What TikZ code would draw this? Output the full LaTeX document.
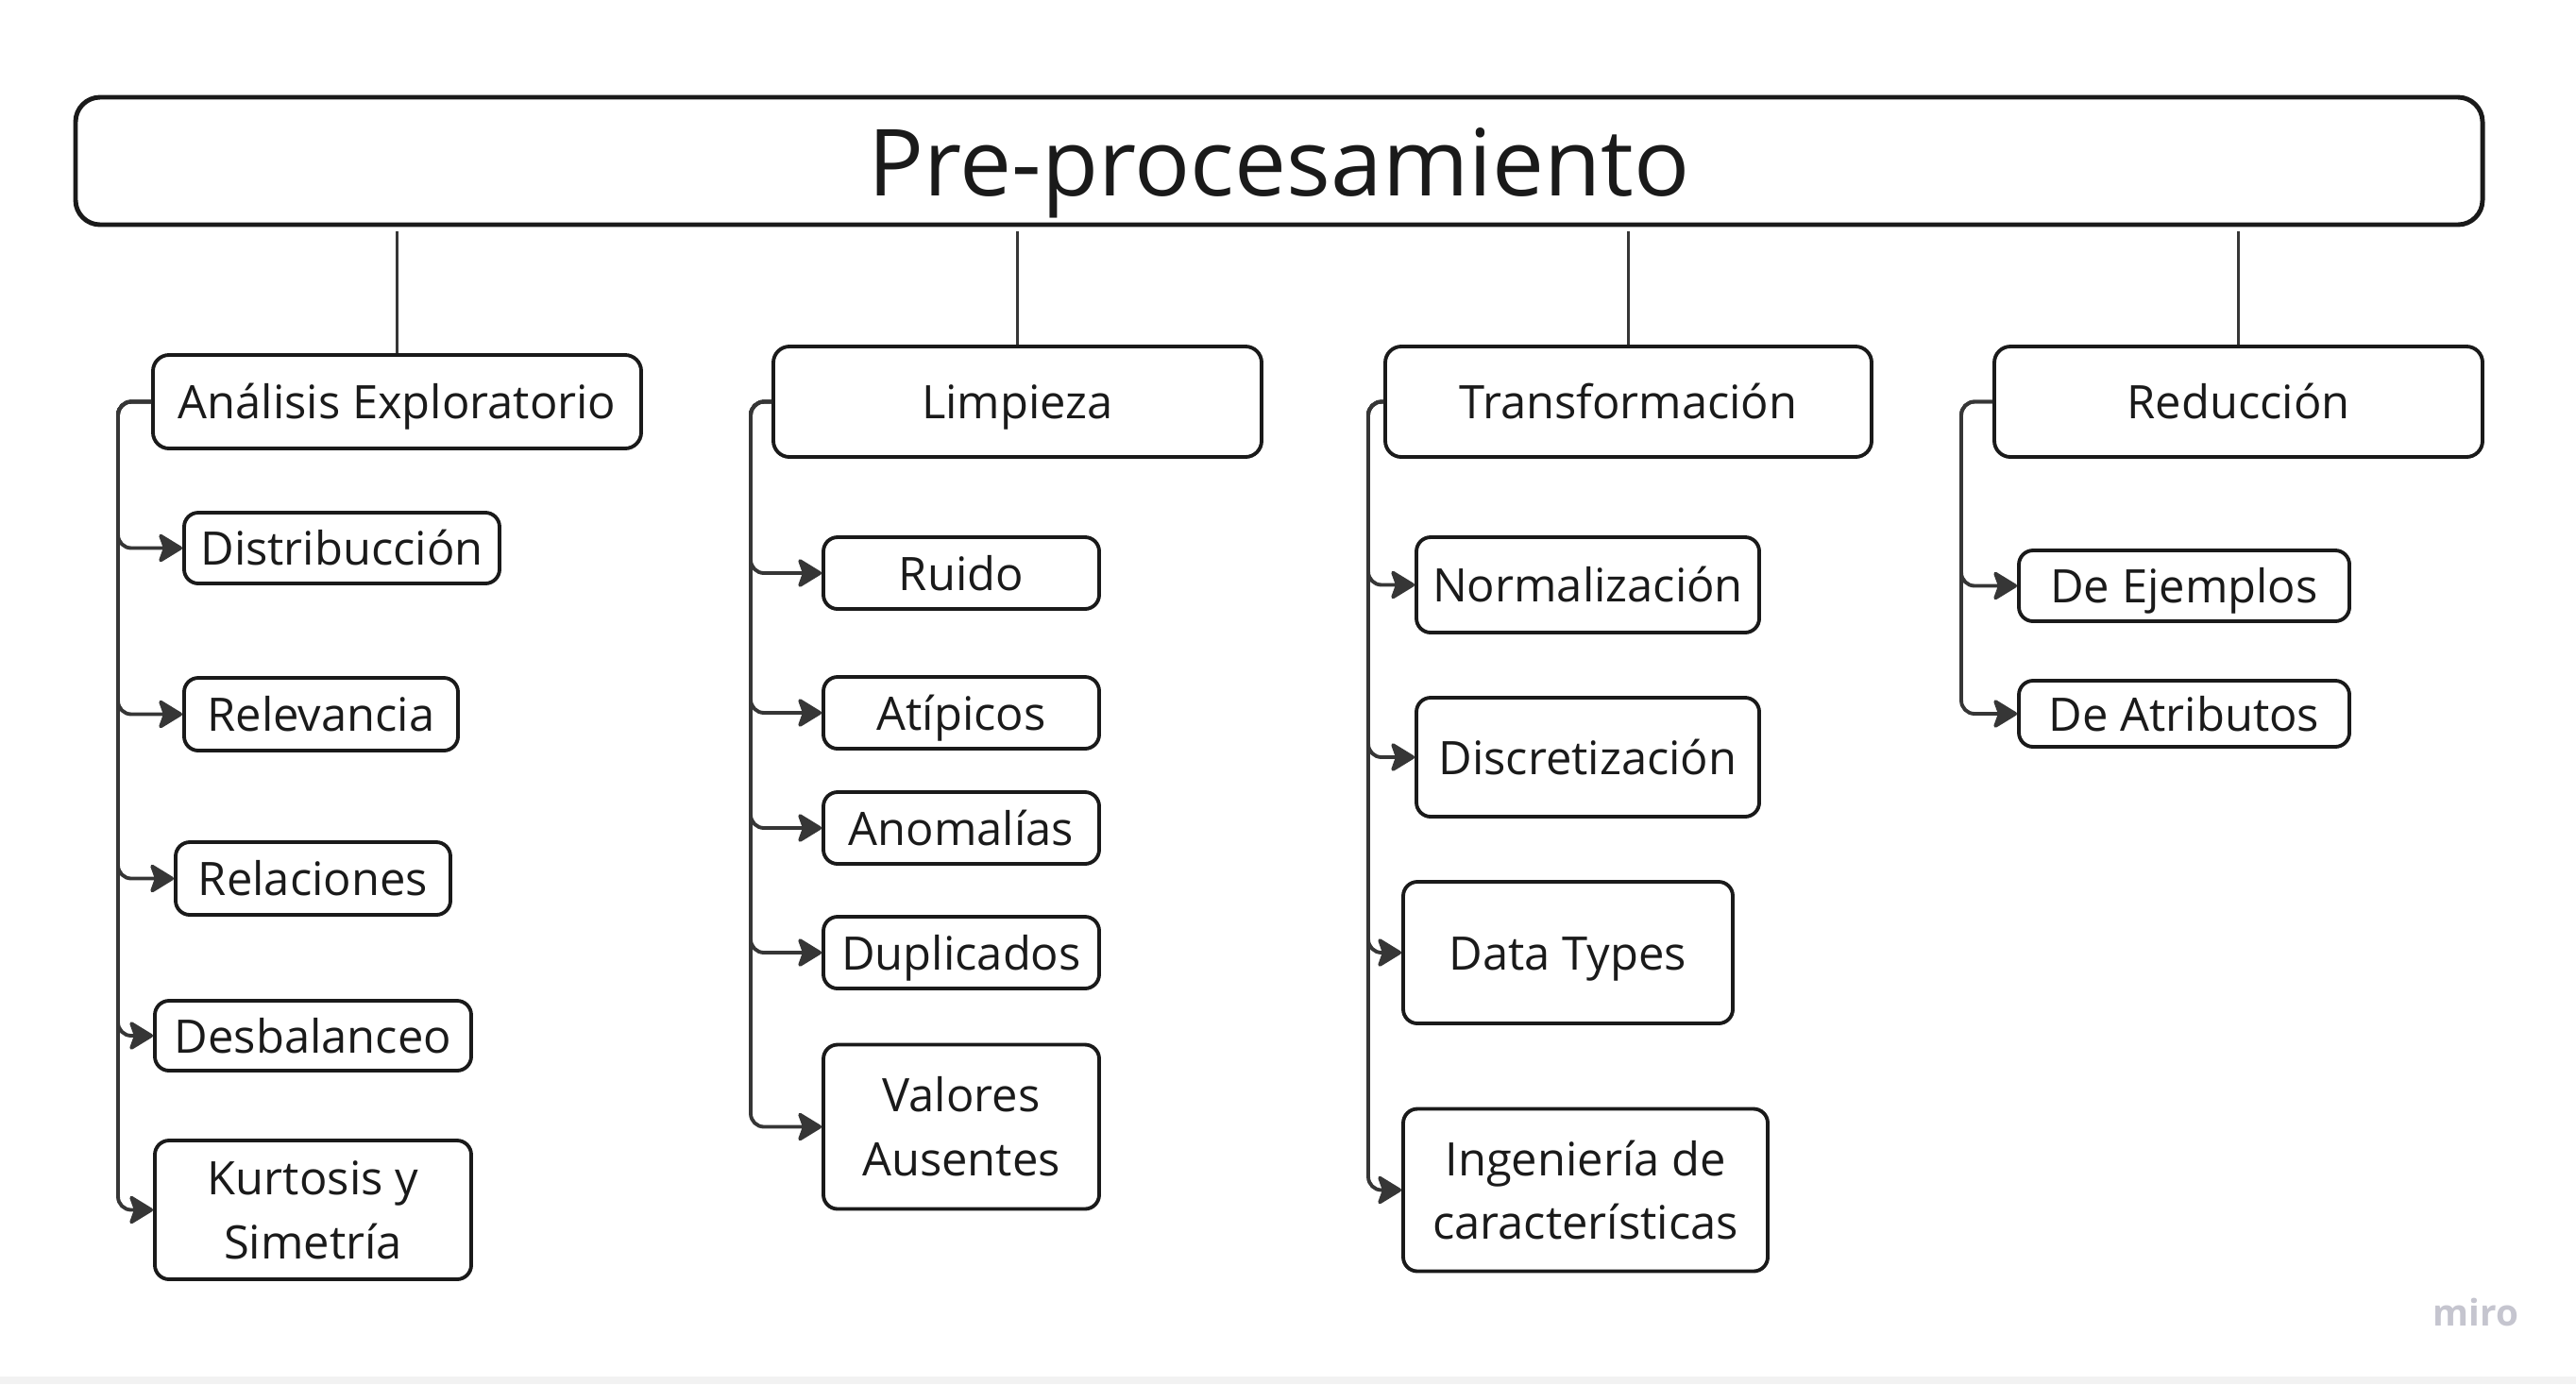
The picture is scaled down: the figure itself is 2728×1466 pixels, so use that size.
\documentclass[tikz,border=0pt]{standalone}
\usepackage{fontspec}
\setmainfont{Open Sans}
\usetikzlibrary{arrows.meta}
\definecolor{bordercol}{HTML}{1A1A1A}
\definecolor{linecol}{HTML}{363636}
\definecolor{textcol}{HTML}{1A1A1A}
\definecolor{mirocol}{HTML}{C5C5CF}
\definecolor{stripcol}{HTML}{F2F2F2}
\tikzset{
  px/.style={x=0.01cm,y=-0.01cm},
  topbox/.style={draw=bordercol,line width=1.4pt,rounded corners=0.26cm,inner sep=0pt,
     font=\fontsize{27.9}{34}\selectfont,text=textcol,align=center,
     text height=27pt,text depth=5.8pt},
  catbox/.style={draw=bordercol,line width=1.1pt,rounded corners=0.17cm,inner sep=0pt,
     font=\fontsize{13.9}{19.3}\selectfont,text=textcol,align=center,
     text height=13.5pt,text depth=3pt},
  leafbox/.style={draw=bordercol,line width=1.1pt,rounded corners=0.15cm,inner sep=0pt,
     font=\fontsize{13.9}{19.3}\selectfont,text=textcol,align=center,
     text height=13.5pt,text depth=3pt},
  leafboxtwo/.style={draw=bordercol,line width=1.1pt,rounded corners=0.15cm,inner sep=0pt,
     font=\fontsize{13.9}{19.3}\selectfont,text=textcol,align=center},
  stem/.style={draw=linecol,line width=0.85pt},
  conn/.style={draw=linecol,line width=1.1pt,rounded corners=0.14cm,
     -{Stealth[length=0.28cm,width=0.34cm,inset=0.06cm,round]}},
}
\newcommand{\bx}[7]{% style, name, cx, cy, w, h, text
  \node[#1,minimum width=#5*0.01cm,minimum height=#6*0.01cm] (#2) at (#3,#4) {#7};}
\begin{document}
\begin{tikzpicture}[px]
\useasboundingbox (0,0) rectangle (2728,1466);
\fill[stripcol] (0,1458) rectangle (2728,1466);

\bx{topbox}{top}{1354.5}{170.5}{2549}{135}{Pre-procesamiento}

\bx{catbox}{ae}{420.5}{425.5}{517}{99}{Análisis Exploratorio}
\bx{catbox}{lim}{1077.5}{425.5}{517}{117}{Limpieza}
\bx{catbox}{tra}{1724.5}{425.5}{515}{117}{Transformación}
\bx{catbox}{red}{2370.5}{425.5}{517}{117}{Reducción}

% Analisis children
\bx{leafbox}{dis}{362}{580.5}{334}{75}{Distribucción}
\bx{leafbox}{rel}{340}{756.5}{290}{77}{Relevancia}
\bx{leafbox}{rec}{331.5}{930.5}{291}{77}{Relaciones}
\bx{leafbox}{des}{331.5}{1097}{335}{74}{Desbalanceo}
\bx{leafboxtwo}{kur}{331.5}{1281.5}{335}{147}{Kurtosis y\\Simetría}

% Limpieza children
\bx{leafbox}{rui}{1018}{607}{292}{76}{Ruido}
\bx{leafbox}{ati}{1018}{755}{292}{76}{Atípicos}
\bx{leafbox}{ano}{1018}{877}{292}{76}{Anomalías}
\bx{leafbox}{dup}{1018}{1009}{292}{76}{Duplicados}
\bx{leafboxtwo}{va}{1018}{1193.5}{292}{174}{Valores\\Ausentes}

% Transformacion children
\bx{leafbox}{nor}{1681.5}{619.5}{363}{101}{Normalización}
\bx{leafbox}{dsc}{1681.5}{802}{363}{126}{Discretización}
\bx{leafbox}{dt}{1660.5}{1009}{349}{150}{Data Types}
\bx{leafboxtwo}{ing}{1679}{1260.5}{386}{172}{Ingeniería de\\características}

% Reduccion children
\bx{leafbox}{dej}{2313}{620.5}{350}{75}{De Ejemplos}
\bx{leafbox}{dat}{2313}{756}{350}{70}{De Atributos}

% stems
\foreach \c in {ae,lim,tra,red}
  \draw[stem,shorten <=0.05cm] (top.south -| \c.north) -- (\c.north);

% spine corners
\coordinate (aes) at (125,425.5);
\coordinate (lims) at (795,425.5);
\coordinate (tras) at (1449,425.5);
\coordinate (reds) at (2077,425.5);

\foreach \c in {dis,rel,rec,des,kur}
  \draw[conn] (ae.west) -- (aes) |- (\c.west);
\foreach \c in {rui,ati,ano,dup,va}
  \draw[conn] (lim.west) -- (lims) |- (\c.west);
\foreach \c in {nor,dsc,dt,ing}
  \draw[conn] (tra.west) -- (tras) |- (\c.west);
\foreach \c in {dej,dat}
  \draw[conn] (red.west) -- (reds) |- (\c.west);

\node[text=mirocol,font=\fontsize{11}{13}\selectfont\bfseries,inner sep=0pt] (miro) at (2622,1390) {miro};
\end{tikzpicture}
\end{document}
